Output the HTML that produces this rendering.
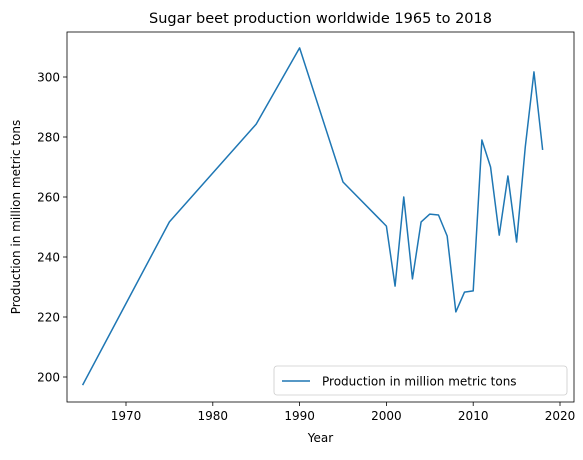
<!DOCTYPE html>
<html><head><meta charset="utf-8"><style>
body{margin:0;background:#fff;}
svg text{font-family:"DejaVu Sans","Liberation Sans",sans-serif;fill:#000;}
</style></head><body>
<svg id="chart" width="583" height="455" xmlns="http://www.w3.org/2000/svg"></svg>
<script>
const years=[1965,1975,1985,1990,1995,2000,2001,2002,2003,2004,2005,2006,2007,2008,2009,2010,2011,2012,2013,2014,2015,2016,2017,2018];
const production=[197.3,251.7,284.3,309.7,265,250.3,230.3,260,232.7,251.7,254.3,254,247,221.7,228.3,228.7,279,270,247.3,267,245,276.7,301.7,275.7];
const xTicks=[1970,1980,1990,2000,2010,2020];
const yTicks=[200,220,240,260,280,300];
const L=67,R=574,T=32,B=402;
const x=v=>126+(v-1970)*8.68;
const y=v=>377-(v-200)*3;
const svg=document.getElementById('chart');
const NS='http://www.w3.org/2000/svg';
function mk(tag,attrs,parent){const e=document.createElementNS(NS,tag);for(const k in attrs)e.setAttribute(k,attrs[k]);(parent||svg).appendChild(e);return e;}
const title=mk('text',{x:(L+R)/2,y:23,'text-anchor':'middle','font-size':'14.5'});title.textContent='Sugar beet production worldwide 1965 to 2018';


xTicks.forEach(t=>{
 const g=mk('g',{});
 
 
 mk('line',{x1:x(t),x2:x(t),y1:B,y2:B+4,stroke:'#000','stroke-width':0.8},g);
 const tx=mk('text',{x:x(t),y:B+18,'text-anchor':'middle','font-size':'12'},g);tx.textContent=t;
});
yTicks.forEach(t=>{
 const g=mk('g',{});
 
 
 mk('line',{x1:L-4,x2:L,y1:y(t),y2:y(t),stroke:'#000','stroke-width':0.8},g);
 const tx=mk('text',{x:L-7,y:y(t)+4.5,'text-anchor':'end','font-size':'12'},g);tx.textContent=t;
});
const xl=mk('text',{x:(L+R)/2,y:442,'text-anchor':'middle','font-size':'12'});xl.textContent='Year';


const yl=mk('text',{x:0,y:0,'text-anchor':'middle','font-size':'12',transform:`translate(20,${(T+B)/2}) rotate(-90)`});yl.textContent='Production in million metric tons';


const line=mk('polyline',{points:years.map((v,i)=>x(v)+','+y(production[i])).join(' '),fill:'none',stroke:'#1f77b4','stroke-width':1.5,'stroke-linejoin':'round'});


const frame=mk('rect',{x:L,y:T,width:R-L,height:B-T,fill:'none',stroke:'#000','stroke-width':0.8});


const lg=mk('g',{});


mk('rect',{x:274,y:366,width:293,height:29,rx:3,fill:'#fff','fill-opacity':0.8,stroke:'#ccc','stroke-width':0.8},lg);
mk('line',{x1:282,x2:310,y1:381,y2:381,stroke:'#1f77b4','stroke-width':1.5},lg);
const lt=mk('text',{x:322,y:385.5,'font-size':'12'},lg);lt.textContent='Production in million metric tons';
</script>
</body></html>
